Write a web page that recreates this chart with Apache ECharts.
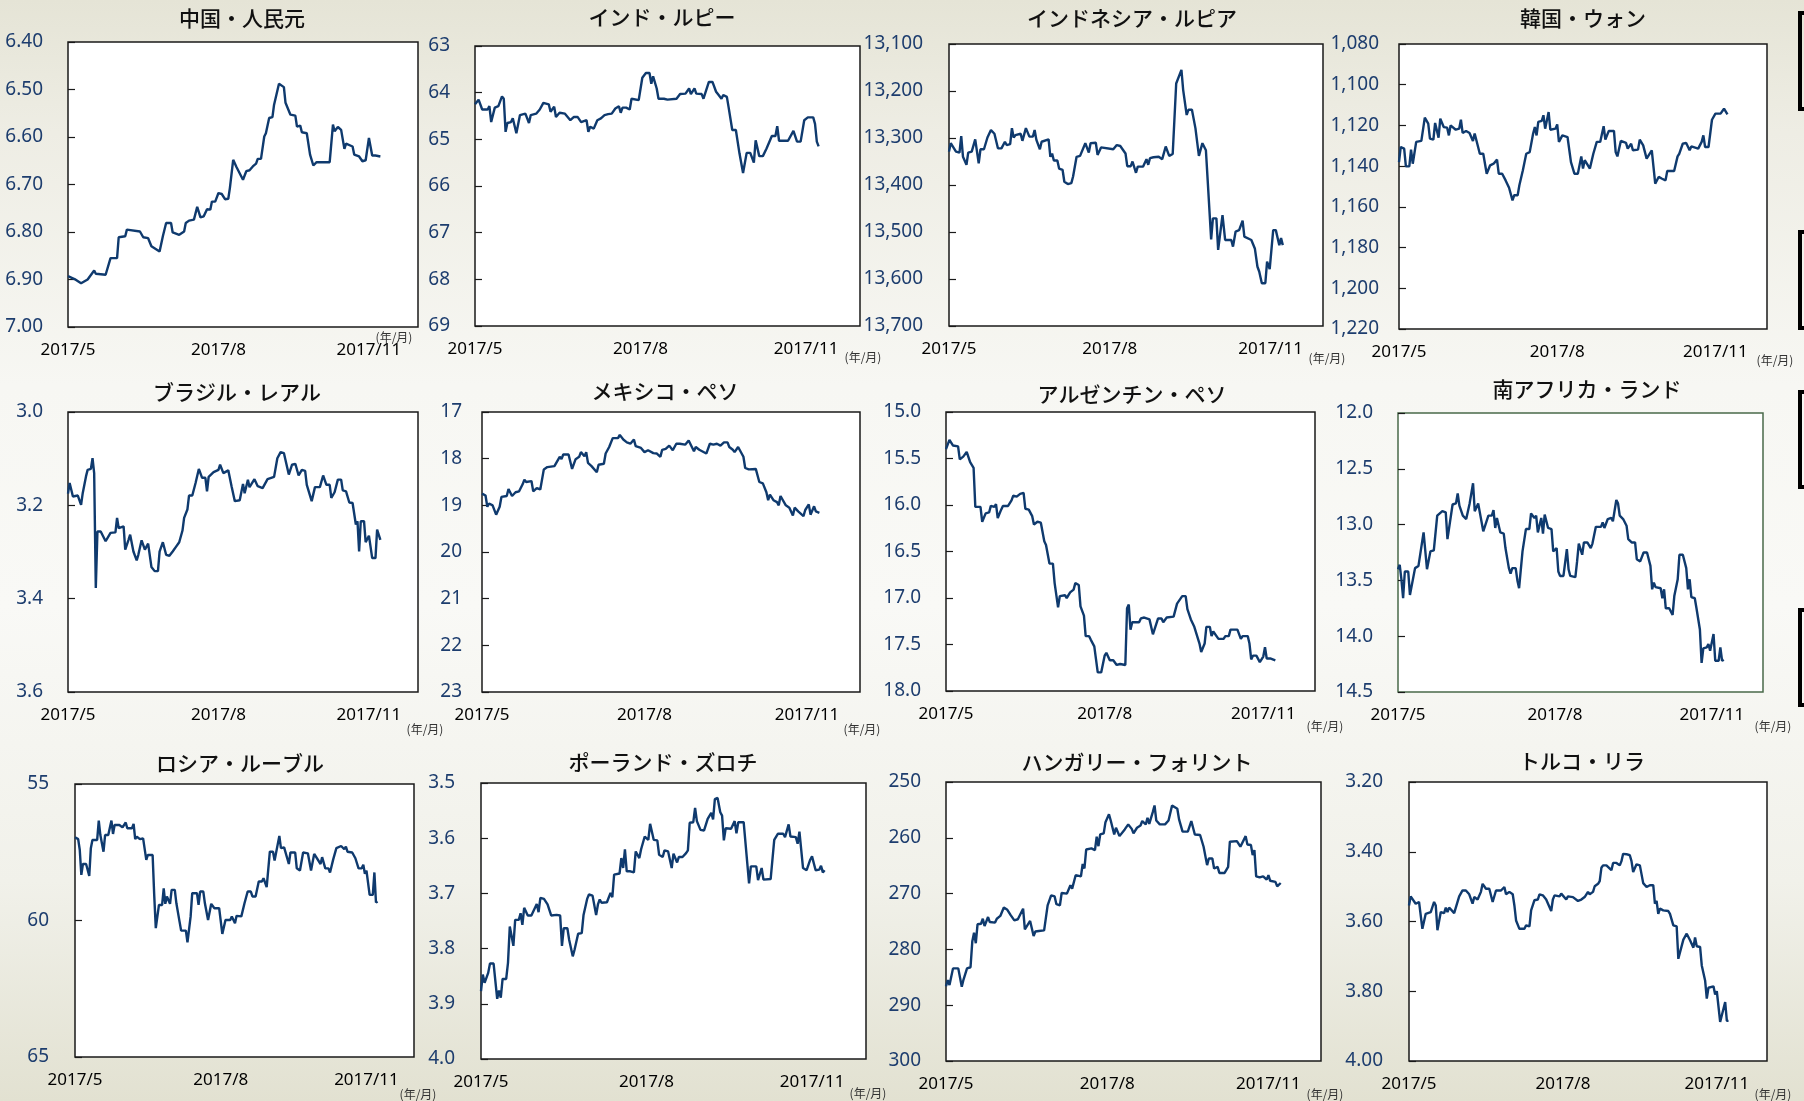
<!DOCTYPE html>
<html lang="ja">
<head>
<meta charset="UTF-8">
<title>新興国通貨の対ドル相場</title>
<script src="https://cdn.jsdelivr.net/npm/echarts@6.0.0/dist/echarts.min.js"></script>
<style>
    html, body { margin: 0; padding: 0; }
    body {
        width: 1804px; height: 1101px; overflow: hidden;
        background: linear-gradient(180deg, #e5e4d6 0%, #eeede4 12%, #f7f7f3 35%, #f9f9f6 55%, #f1f1ea 80%, #e2e1d1 100%);
    }
    #main { width: 1804px; height: 1101px; }
</style>
</head>
<body>
<div id="main"></div>
<script type="text/javascript">
    // x軸: 2017/5/1 からの経過日数
    var xTickDays = [0, 92, 184];
    var xTickLabels = ['2017/5', '2017/8', '2017/11'];
    var xEndDay = 214; // 2017/12/1

    var titles = ['中国・人民元', 'インド・ルピー', 'インドネシア・ルピア', '韓国・ウォン',
        'ブラジル・レアル', 'メキシコ・ペソ', 'アルゼンチン・ペソ', '南アフリカ・ランド',
        'ロシア・ルーブル', 'ポーランド・ズロチ', 'ハンガリー・フォリント', 'トルコ・リラ'];

    // y軸目盛 [min, max, 間隔, 小数桁]
    var yScales = [
        [6.4, 7.0, 0.1, 2], [63, 69, 1, 0], [13100, 13700, 100, 0], [1080, 1220, 20, 0],
        [3.0, 3.6, 0.2, 1], [17, 23, 1, 0], [15.0, 18.0, 0.5, 1], [12.0, 14.5, 0.5, 1],
        [55, 65, 5, 0], [3.5, 4.0, 0.1, 1], [250, 300, 10, 0], [3.2, 4.0, 0.2, 2]
    ];

    // [日数, 対ドルレート]
    var cny = [[0,6.893],[4,6.899],[8,6.908],[12,6.900],[16,6.881],[17,6.888],[23,6.890],[26,6.855],[30,6.855],[31,6.811],[35,6.809],[36,6.795],[44,6.799],[45,6.795],[46,6.811],[49,6.813],[51,6.830],[56,6.841],[58,6.809],[60,6.781],[63,6.781],[64,6.801],[68,6.806],[71,6.799],[72,6.781],[74,6.776],[77,6.774],[79,6.747],[81,6.769],[83,6.767],[85,6.752],[87,6.753],[88,6.736],[90,6.736],[92,6.718],[94,6.720],[96,6.731],[98,6.730],[99,6.707],[101,6.648],[103,6.663],[104,6.665],[107,6.690],[109,6.672],[111,6.670],[113,6.662],[115,6.656],[116,6.646],[118,6.646],[120,6.599],[121,6.592],[123,6.560],[125,6.558],[126,6.532],[127,6.535],[129,6.488],[132,6.495],[133,6.528],[136,6.553],[139,6.555],[140,6.578],[142,6.576],[143,6.590],[146,6.592],[148,6.637],[150,6.660],[152,6.653],[160,6.653],[162,6.574],[163,6.588],[165,6.579],[167,6.585],[169,6.625],[170,6.614],[174,6.620],[175,6.637],[178,6.641],[180,6.651],[182,6.649],[184,6.602],[186,6.639],[188,6.639],[189,6.635],[191,6.641]];
    var inr = [[0,64.25],[2,64.15],[3,64.16],[4,64.36],[7,64.36],[8,64.29],[9,64.63],[10,64.63],[11,64.32],[13,64.29],[14,64.30],[15,64.08],[16,64.13],[17,64.84],[18,64.65],[20,64.63],[21,64.55],[23,64.87],[25,64.48],[28,64.45],[30,64.65],[31,64.48],[34,64.45],[36,64.36],[38,64.22],[41,64.25],[42,64.41],[44,64.30],[45,64.52],[47,64.43],[50,64.45],[53,64.59],[55,64.52],[57,64.52],[59,64.63],[62,64.59],[63,64.84],[64,64.73],[66,64.77],[68,64.59],[70,64.55],[72,64.48],[74,64.46],[76,64.45],[78,64.34],[80,64.29],[81,64.43],[82,64.32],[84,64.32],[86,64.36],[87,64.13],[88,64.15],[91,64.16],[93,63.68],[95,63.58],[97,63.58],[98,63.81],[99,63.65],[101,63.91],[102,64.13],[105,64.13],[107,64.15],[112,64.13],[114,64.03],[117,64.02],[119,63.91],[120,64.03],[122,63.91],[123,64.02],[126,64.03],[127,64.13],[130,63.77],[132,63.77],[134,63.98],[135,64.03],[137,64.13],[138,64.05],[140,64.09],[141,64.32],[142,64.29],[143,64.80],[145,64.80],[147,65.30],[149,65.72],[151,65.29],[153,65.29],[155,65.50],[156,65.02],[158,65.36],[160,65.36],[162,65.20],[165,64.93],[167,64.93],[168,64.72],[169,65.03],[174,65.03],[175,65.07],[177,64.82],[179,65.05],[181,65.05],[183,64.59],[185,64.53],[188,64.53],[189,64.67],[190,65.05],[191,65.15]];
    var idr = [[0,13329],[1,13311],[2,13308],[4,13329],[6,13331],[7,13296],[8,13340],[10,13357],[11,13331],[13,13329],[15,13303],[16,13301],[17,13354],[18,13324],[20,13324],[22,13299],[23,13303],[24,13283],[26,13291],[27,13294],[28,13322],[30,13322],[32,13308],[33,13315],[35,13313],[36,13279],[37,13299],[38,13294],[41,13291],[42,13306],[44,13279],[46,13297],[48,13297],[49,13283],[50,13304],[52,13324],[53,13308],[57,13303],[58,13340],[59,13333],[60,13348],[62,13348],[63,13365],[65,13368],[66,13393],[68,13398],[70,13396],[71,13382],[73,13340],[75,13338],[76,13336],[78,13311],[80,13331],[81,13311],[84,13310],[85,13336],[87,13320],[88,13324],[94,13324],[96,13315],[98,13317],[99,13315],[101,13333],[102,13360],[104,13360],[105,13350],[107,13374],[108,13361],[111,13361],[113,13345],[114,13357],[115,13343],[117,13341],[120,13340],[122,13345],[124,13318],[125,13318],[126,13338],[128,13334],[130,13184],[131,13184],[133,13155],[134,13198],[135,13199],[136,13251],[137,13240],[139,13240],[141,13279],[142,13282],[143,13338],[145,13311],[146,13311],[147,13326],[148,13389],[150,13516],[151,13471],[153,13471],[154,13538],[155,13540],[156.5,13464],[158,13517],[161.5,13517],[162.5,13531],[164,13499],[166,13496],[168,13476],[169,13510],[173,13517],[175,13535],[176.5,13574],[177.5,13584],[179,13609],[181,13609],[182,13563],[183.5,13579],[185.5,13496],[187,13496],[189,13528],[190,13513],[191,13528]];
    var krw = [[0,1138.0],[1,1130.6],[3,1131.4],[4,1140.1],[6,1140.1],[7,1131.9],[8,1138.8],[10,1128.1],[13,1127.6],[15,1116.2],[17,1119.1],[18,1126.5],[20,1127.0],[21,1118.8],[23,1126.0],[24,1116.7],[26,1120.8],[28,1121.1],[29,1124.9],[30,1120.0],[33,1122.1],[35,1121.6],[36,1117.2],[37,1123.7],[39,1122.7],[41,1123.7],[43,1127.6],[44,1124.0],[45,1124.4],[47,1133.9],[49,1133.9],[50,1133.1],[51,1143.7],[53,1139.6],[55,1138.8],[57,1136.8],[58,1143.7],[60,1143.7],[62,1147.0],[64,1150.6],[66,1156.8],[67,1154.3],[69,1154.3],[70,1149.4],[72,1142.1],[74,1133.9],[76,1133.1],[78,1124.0],[79,1120.8],[80,1124.9],[81,1118.3],[83,1117.8],[84,1115.0],[85,1121.6],[87,1113.4],[88,1122.1],[91,1121.6],[92,1119.5],[93,1128.1],[95,1124.9],[98,1125.7],[100,1138.0],[102,1143.7],[104,1143.7],[106,1135.2],[107,1141.2],[108,1137.1],[111,1141.2],[113,1133.9],[115,1128.1],[117,1128.1],[119,1120.4],[120,1127.0],[122,1122.7],[125,1122.7],[126,1133.1],[127,1135.2],[129,1127.6],[132,1128.6],[133,1131.4],[135,1129.0],[136,1132.2],[139,1131.9],[140,1127.0],[142,1129.8],[144,1136.3],[145,1136.8],[147,1132.2],[149,1148.6],[151,1145.3],[153,1146.2],[155,1147.0],[156,1142.4],[160,1142.4],[162,1135.2],[163,1133.9],[165,1129.0],[167,1128.6],[169,1132.2],[170,1130.3],[174,1131.4],[176,1128.1],[177,1124.9],[178,1130.6],[180,1130.6],[182,1117.2],[184,1114.2],[187,1114.2],[188,1115.0],[189,1111.8],[191,1114.6]];
    var brl = [[0,3.175],[1,3.152],[3,3.181],[4,3.177],[6,3.179],[8,3.199],[9,3.174],[11,3.138],[12,3.124],[14,3.122],[15,3.099],[16,3.131],[17,3.377],[18,3.256],[20,3.256],[23,3.277],[26,3.259],[29,3.258],[30,3.227],[31,3.249],[34,3.245],[35,3.295],[37,3.274],[38,3.263],[40,3.299],[42,3.318],[43,3.306],[45,3.275],[46,3.277],[47,3.295],[49,3.282],[51,3.332],[53,3.341],[55,3.341],[56,3.299],[58,3.279],[60,3.306],[62,3.308],[64,3.299],[66,3.289],[68,3.279],[70,3.254],[71,3.227],[73,3.209],[74,3.179],[76,3.179],[78,3.152],[80,3.122],[82,3.141],[84,3.141],[85,3.170],[86,3.139],[89,3.129],[92,3.124],[93,3.113],[95,3.131],[98,3.125],[100,3.159],[102,3.191],[105,3.189],[107,3.154],[108,3.174],[110,3.145],[111,3.161],[114,3.144],[116,3.159],[119,3.163],[122,3.144],[126,3.139],[128,3.099],[130,3.086],[132,3.088],[135,3.134],[137,3.113],[139,3.111],[141,3.136],[143,3.124],[145,3.126],[146,3.156],[149,3.191],[151,3.161],[154,3.161],[156,3.136],[158,3.156],[160,3.156],[161,3.184],[163,3.172],[165,3.145],[167,3.145],[168,3.168],[170,3.170],[172,3.194],[174,3.195],[176,3.241],[177,3.234],[178,3.299],[179,3.234],[181,3.234],[182,3.279],[184,3.265],[185,3.266],[186,3.313],[188,3.313],[189,3.252],[191,3.274]];
    var mxn = [[0,18.75],[2,18.79],[3,19.03],[4,18.96],[6,19.00],[8,19.20],[10,19.03],[11,18.82],[14,18.80],[15,18.65],[17,18.80],[19,18.72],[21,18.70],[23,18.55],[24,18.45],[25,18.50],[28,18.48],[29,18.70],[31,18.63],[33,18.66],[35,18.23],[37,18.18],[41,18.16],[44,17.96],[45,18.01],[46,17.91],[49,17.91],[51,18.22],[53,18.01],[55,17.96],[56,17.86],[58,17.95],[59,17.86],[60,18.09],[62,18.16],[65,18.29],[66,18.13],[69,18.11],[70,17.89],[72,17.75],[74,17.56],[77,17.56],[78,17.49],[80,17.59],[82,17.65],[84,17.68],[86,17.59],[87,17.73],[90,17.77],[92,17.86],[94,17.82],[97,17.88],[99,17.89],[101,17.96],[102,17.81],[104,17.79],[106,17.72],[108,17.82],[110,17.68],[112,17.68],[115,17.70],[117,17.61],[118,17.61],[120,17.84],[121,17.75],[123,17.81],[124,17.81],[127,17.89],[129,17.68],[131,17.70],[133,17.68],[135,17.72],[137,17.65],[139,17.65],[140,17.75],[142,17.81],[143,17.86],[145,17.75],[146,17.77],[148,17.96],[149,18.20],[151,18.23],[155,18.22],[157,18.50],[159,18.53],[161,18.72],[162,18.89],[163,18.77],[165,18.89],[167,18.93],[168,19.00],[169,18.80],[170,18.82],[172,19.00],[174,19.05],[176,19.22],[177,19.05],[179,19.13],[180,19.15],[182,19.23],[183,19.10],[185,18.98],[186,19.20],[187,19.20],[188,19.02],[189,19.13],[191,19.16]];
    var ars = [[0,15.40],[2,15.30],[3,15.28],[4,15.36],[7,15.37],[8,15.51],[10,15.48],[12,15.43],[13,15.43],[14,15.54],[16,15.60],[17,16.02],[20,16.02],[21,16.18],[23,16.09],[25,16.08],[26,16.01],[28,16.02],[29,15.99],[30,16.14],[32,16.05],[33,16.01],[36,16.01],[38,15.95],[39,15.90],[41,15.91],[43,15.88],[45,15.87],[46,16.04],[48,16.05],[50,16.12],[51,16.21],[53,16.18],[55,16.19],[57,16.39],[58,16.43],[60,16.63],[62,16.63],[63,16.84],[65,17.10],[66,16.98],[67,16.97],[69,16.97],[70,17.00],[72,16.94],[74,16.91],[75,16.84],[77,16.86],[78,17.09],[80,17.19],[81,17.41],[83,17.41],[84,17.45],[86,17.52],[87,17.66],[88,17.80],[90,17.80],[92,17.62],[93,17.59],[95,17.67],[97,17.67],[99,17.72],[101,17.71],[104,17.72],[105,17.11],[106,17.07],[107,17.34],[108,17.26],[112,17.26],[113,17.22],[115,17.21],[116,17.23],[118,17.23],[120,17.39],[121,17.39],[123,17.22],[125,17.22],[126,17.26],[128,17.21],[132,17.20],[134,17.06],[137,16.98],[139,16.98],[140,17.12],[142,17.23],[144,17.31],[145,17.31],[147,17.49],[148,17.58],[150,17.49],[151,17.31],[153,17.31],[154,17.41],[155,17.36],[158,17.44],[161,17.44],[162,17.41],[164,17.41],[165,17.34],[169,17.34],[171,17.44],[172,17.41],[175,17.41],[176,17.49],[177,17.66],[178,17.62],[180,17.62],[182,17.69],[184,17.63],[185,17.53],[186,17.65],[188,17.65],[189,17.66],[191,17.67]];
    var zar = [[0,13.40],[1,13.36],[2,13.49],[3,13.66],[4,13.42],[6,13.42],[7,13.63],[8,13.63],[10,13.39],[12,13.37],[13,13.37],[15,13.07],[17,13.40],[19,13.24],[21,13.23],[23,12.92],[24,12.92],[26,12.88],[28,12.89],[29,13.13],[30,13.12],[32,12.82],[34,12.81],[35,12.72],[36,12.83],[38,12.92],[40,12.95],[42,12.81],[44,12.63],[45,12.88],[47,12.81],[48,12.82],[50,13.06],[51,13.07],[53,12.92],[55,12.92],[56,12.87],[57,13.03],[58,12.94],[60,13.07],[62,13.08],[63,13.21],[65,13.39],[66,13.44],[67,13.39],[69,13.39],[70,13.50],[71,13.57],[73,13.24],[75,13.04],[77,13.04],[78,12.90],[80,12.94],[81,12.92],[82,13.07],[84,12.94],[85,13.08],[86,12.91],[88,13.03],[90,13.04],[91,13.24],[93,13.21],[94,13.42],[95,13.46],[97,13.46],[99,13.22],[100,13.40],[101,13.46],[104,13.47],[105,13.33],[106,13.17],[108,13.27],[109,13.16],[111,13.16],[113,13.21],[114,13.17],[116,13.02],[119,13.02],[120,12.98],[121,13.03],[123,12.95],[125,12.94],[126,12.97],[128,12.78],[129,12.81],[130,12.92],[132,12.95],[134,13.01],[135,13.13],[137,13.16],[139,13.16],[140,13.31],[142,13.33],[144,13.25],[146,13.25],[148,13.37],[149,13.58],[150,13.52],[151,13.56],[154,13.57],[155,13.66],[156,13.58],[157,13.75],[159,13.75],[161,13.81],[162,13.64],[164,13.49],[165,13.27],[167,13.27],[169,13.39],[170,13.58],[171,13.49],[172,13.65],[174,13.66],[175,13.75],[177,13.94],[178,14.24],[179,14.11],[181,14.10],[182,14.07],[183,14.13],[185,13.98],[186,14.22],[188,14.22],[189,14.10],[190,14.22],[191,14.21]];
    var rub = [[0,56.95],[2,57.02],[3,57.41],[4,58.33],[5,57.93],[7,57.93],[9,58.37],[10,57.35],[11,57.05],[14,57.05],[15,56.34],[16,56.87],[18,57.48],[19,56.87],[21,56.87],[23,56.34],[24,56.83],[25,56.50],[28,56.50],[30,56.59],[32,56.41],[33,56.62],[36,56.62],[37,56.46],[38,57.02],[39,56.93],[41,57.02],[43,56.99],[45,57.78],[46,57.60],[49,57.60],[50,59.06],[51,60.28],[53,59.43],[55,59.43],[56,58.82],[57,59.39],[58,59.12],[60,59.39],[61,58.88],[63,58.88],[64,59.37],[66,60.04],[67,60.37],[70,60.37],[71,60.80],[73,59.85],[74,59.00],[77,59.00],[78,59.43],[79,58.94],[81,58.94],[82,59.37],[83,59.43],[84,59.98],[86,59.39],[88,59.55],[91,59.55],[93,60.49],[95,59.98],[98,59.98],[99,59.85],[101,60.10],[102,59.83],[105,59.85],[107,59.37],[109,58.94],[111,58.94],[112,59.12],[114,59.12],[116,58.57],[118,58.57],[119,58.45],[121,58.78],[123,57.48],[125,57.48],[126,57.80],[129,56.90],[130,57.35],[132,57.32],[135,57.93],[136,57.51],[139,57.51],[140,58.09],[142,58.17],[144,57.51],[147,57.54],[149,58.17],[151,57.56],[152,57.60],[155,57.93],[156,57.68],[158,58.09],[160,58.09],[161,58.24],[163,57.76],[165,57.35],[168,57.27],[170,57.39],[171,57.29],[172,57.48],[175,57.51],[177,57.72],[179,58.09],[181,58.09],[182,57.96],[183,58.29],[184,58.17],[186,59.06],[188,59.06],[189,58.24],[190,59.34],[191,59.30]];
    var pln = [[0,3.877],[1,3.847],[2,3.862],[4,3.844],[5,3.827],[7,3.827],[9,3.891],[10,3.876],[11,3.889],[12,3.855],[14,3.855],[15,3.826],[16,3.760],[17,3.757],[18,3.795],[19,3.748],[21,3.748],[22,3.736],[23,3.757],[24,3.726],[26,3.740],[28,3.740],[29,3.742],[31,3.719],[32,3.734],[33,3.708],[35,3.710],[37,3.720],[39,3.740],[40,3.737],[42,3.739],[44,3.740],[45,3.795],[46,3.763],[48,3.763],[49,3.784],[51,3.814],[52,3.802],[54,3.773],[56,3.772],[57,3.739],[59,3.710],[60,3.702],[62,3.704],[64,3.739],[65,3.720],[66,3.711],[67,3.717],[70,3.716],[72,3.699],[73,3.707],[74,3.666],[77,3.664],[78,3.636],[79,3.654],[80,3.620],[81,3.660],[83,3.660],[85,3.662],[86,3.624],[88,3.636],[89,3.620],[90,3.620],[91,3.597],[93,3.603],[94,3.574],[96,3.603],[98,3.604],[99,3.630],[101,3.634],[102,3.622],[104,3.624],[106,3.654],[107,3.628],[109,3.644],[110,3.634],[112,3.634],[114,3.627],[115,3.622],[116,3.572],[118,3.571],[119,3.545],[120,3.569],[122,3.585],[124,3.586],[126,3.565],[128,3.554],[129,3.566],[130,3.529],[131.5,3.527],[133,3.553],[134,3.559],[135,3.604],[136,3.582],[139,3.583],[140,3.580],[141,3.569],[142,3.591],[143,3.571],[146,3.571],[149,3.682],[150,3.651],[153,3.651],[154,3.676],[156,3.654],[157,3.675],[161,3.674],[163,3.603],[165,3.592],[168,3.592],[169,3.598],[171,3.575],[172,3.597],[175,3.598],[176,3.610],[177,3.588],[179,3.654],[181,3.658],[183,3.639],[184,3.633],[186,3.658],[188,3.657],[189,3.650],[190,3.662],[191,3.658]];
    var huf = [[0,286.6],[1,285.5],[2,286.4],[4,283.4],[7,283.4],[9,286.7],[10,285.4],[12,283.4],[14,283.2],[15,278.6],[16,277.0],[17,278.9],[18,275.5],[20,275.4],[21,274.5],[22,275.8],[24,274.2],[25,275.1],[28,275.2],[29,274.5],[31,274.0],[33,272.5],[35,272.9],[37,273.9],[39,274.8],[41,274.6],[44,272.7],[45,276.4],[48,274.9],[50,277.6],[51,276.8],[53,276.7],[56,276.6],[58,272.1],[60,270.3],[62,270.5],[63,271.9],[65,272.1],[66,269.9],[69,270.0],[71,268.5],[72,269.1],[74,266.7],[77,266.9],[78,264.7],[79,265.5],[80,262.1],[83,261.9],[85,262.2],[86,259.8],[87,261.5],[88,259.4],[90,259.2],[91,257.2],[93,255.8],[94,256.9],[96,259.4],[97,258.2],[99,259.7],[102,258.5],[104,257.6],[106,258.4],[107,259.2],[109,258.2],[111,257.8],[112,257.0],[114,257.6],[115,256.4],[116,257.5],[118,255.4],[119,254.2],[120,256.9],[122,257.6],[125,257.6],[127,256.9],[129,254.2],[132,254.8],[133,256.7],[135,258.9],[138,258.9],[140,257.0],[142,259.4],[145,259.5],[147,261.6],[149,264.9],[150,263.7],[152,263.7],[153,265.5],[155,265.2],[156,266.3],[159,266.3],[161,265.2],[162,260.7],[166,260.6],[168,261.6],[169,261.3],[171,259.7],[172,261.2],[174,261.3],[175,263.1],[176,262.2],[177,266.9],[179,267.1],[181,266.9],[183,267.5],[184,266.7],[185,267.7],[188,267.9],[189,268.7],[191,268.1]];
    var tryl = [[0,3.554],[1,3.528],[2,3.532],[4,3.549],[6,3.544],[8,3.621],[10,3.578],[13,3.573],[15,3.544],[16,3.554],[17,3.625],[19,3.573],[21,3.576],[22,3.560],[23,3.573],[24,3.560],[27,3.576],[28,3.576],[30,3.528],[32,3.511],[34,3.511],[36,3.522],[38,3.549],[39,3.530],[41,3.537],[43,3.515],[44,3.492],[46,3.506],[48,3.506],[50,3.544],[52,3.511],[55,3.511],[57,3.501],[58,3.522],[60,3.515],[62,3.522],[63,3.554],[64,3.597],[66,3.621],[69,3.621],[70,3.611],[72,3.614],[73,3.568],[75,3.539],[77,3.537],[78,3.522],[80,3.525],[82,3.537],[83,3.537],[85,3.570],[86,3.537],[87,3.525],[90,3.528],[91,3.520],[94,3.537],[95,3.528],[98,3.530],[101,3.541],[103,3.537],[105,3.530],[106,3.532],[107,3.515],[108,3.522],[110,3.515],[111,3.499],[113,3.492],[114,3.484],[115,3.446],[116,3.439],[118,3.439],[121,3.453],[122,3.432],[124,3.432],[126,3.439],[127,3.427],[128,3.406],[130,3.407],[131,3.410],[132,3.410],[133,3.427],[134,3.458],[136,3.436],[137,3.436],[138,3.439],[140,3.490],[141,3.490],[142,3.501],[144,3.496],[146,3.496],[147,3.549],[148,3.541],[149,3.578],[150,3.563],[152,3.568],[155,3.570],[156,3.578],[158,3.611],[160,3.614],[161,3.707],[162,3.711],[164,3.652],[166,3.635],[167,3.635],[168,3.654],[170,3.675],[171,3.646],[172,3.671],[174,3.673],[175,3.726],[177,3.769],[178,3.821],[179,3.790],[182,3.786],[183,3.809],[184,3.800],[186,3.888],[187,3.888],[189,3.831],[190,3.885],[191,3.885]];

    var seriesData = [cny, inr, idr, krw, brl, mxn, ars, zar, rub, pln, huf, tryl];

    // レイアウト(ピクセル): グラフ枠 [left, top, width, height]
    var boxes = [
        [68, 42, 350, 285], [475, 46, 385, 280], [949, 44, 374, 282], [1399, 44, 368, 285],
        [68, 412, 350, 280], [482, 412, 378, 280], [946, 412, 369, 279], [1398, 413, 365, 279],
        [75, 784, 339, 273], [481, 783, 385, 276], [946, 782, 375, 279], [1409, 782, 358, 279]
    ];
    var titlePos = [[242, 18], [662, 17], [1132, 18], [1583, 18], [237, 392], [665, 391], [1132, 394], [1587, 389], [240, 763], [663, 762], [1137, 762], [1582, 761]];
    var unitPos = [[394, 337], [863, 357], [1327, 358], [1775, 360], [425, 729], [862, 729], [1325, 726], [1773, 726], [418, 1094], [868, 1093], [1325, 1094], [1773, 1094]];
    var labelMargins = [25, 25, 26, 20, 25, 20, 25, 25, 26, 26, 25, 26];

    var lineColor = '#0f3a6e';
    var numFont = '"Noto Sans", "DejaVu Sans", sans-serif';
    var jpFont = '"Noto Sans CJK JP", "Noto Sans", sans-serif';

    function fmtNum(v, digits) {
        var s = v.toFixed(digits);
        if (Math.abs(v) >= 1000) {
            s = s.replace(/\B(?=(\d{3})+(?!\d))/g, ',');
        }
        return s;
    }

    var grids = [], xAxes = [], yAxes = [], series = [], graphics = [];
    for (var i = 0; i < 12; i++) {
        var b = boxes[i];
        var sc = yScales[i];
        grids.push({
            left: b[0], top: b[1], width: b[2], height: b[3],
            show: true, backgroundColor: '#ffffff',
            borderColor: i === 7 ? '#4a6a4a' : '#1a1a1a', borderWidth: 1.5
        });
        xAxes.push({
            type: 'value', gridIndex: i, min: 0, max: xEndDay, interval: 92,
            axisLine: { show: false }, axisTick: { show: false }, splitLine: { show: false },
            axisLabel: {
                margin: 15, color: '#000', fontSize: 17, fontFamily: numFont,
                formatter: function (v) {
                    var k = xTickDays.indexOf(Math.round(v));
                    return k >= 0 ? xTickLabels[k] : '';
                }
            }
        });
        yAxes.push({
            type: 'value', gridIndex: i, inverse: true,
            min: sc[0], max: sc[1], interval: sc[2],
            axisLine: { show: false }, splitLine: { show: false },
            axisTick: { show: true, inside: true, length: 7, lineStyle: { color: '#1a1a1a', width: 1.2 } },
            axisLabel: {
                margin: labelMargins[i], color: '#1d3d6e', fontSize: 19, fontFamily: numFont,
                formatter: (function (d) { return function (v) { return fmtNum(v, d); }; })(sc[3])
            }
        });
        series.push({
            type: 'line', xAxisIndex: i, yAxisIndex: i, data: seriesData[i],
            showSymbol: false, symbol: 'none', animation: false,
            lineStyle: { color: lineColor, width: 2.4 }
        });
        graphics.push({
            type: 'text', x: titlePos[i][0], y: titlePos[i][1], silent: true,
            style: {
                text: titles[i], fill: '#111', fontSize: 21, fontWeight: 500, fontFamily: jpFont,
                textAlign: 'center', textVerticalAlign: 'middle', align: 'center', verticalAlign: 'middle'
            }
        });
        graphics.push({
            type: 'text', x: unitPos[i][0], y: unitPos[i][1], silent: true,
            style: {
                text: '(年/月)', fill: '#333', fontSize: 12, fontFamily: jpFont,
                textAlign: 'center', textVerticalAlign: 'middle', align: 'center', verticalAlign: 'middle'
            }
        });
    }

    // 右端の切れた枠
    var brackets = [[13, 96], [232, 96], [392, 95], [610, 95]];
    brackets.forEach(function (br) {
        graphics.push({
            type: 'rect', silent: true,
            shape: { x: 1800, y: br[0], width: 30, height: br[1] },
            style: { fill: 'none', stroke: '#000', lineWidth: 4 }
        });
    });

    var myChart = echarts.init(document.getElementById('main'));
    myChart.setOption({
        backgroundColor: 'transparent',
        animation: false,
        grid: grids,
        xAxis: xAxes,
        yAxis: yAxes,
        series: series,
        graphic: graphics
    });
</script>
</body>
</html>
